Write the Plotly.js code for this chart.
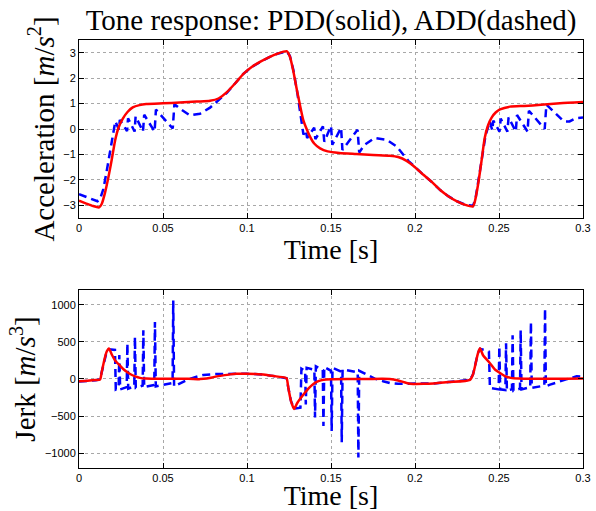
<!DOCTYPE html>
<html>
<head>
<meta charset="utf-8">
<script src="https://cdn.plot.ly/plotly-3.0.1.min.js"></script>
<style>html,body{margin:0;padding:0;background:#fff;}#plot{width:596px;height:511px;}</style>
</head>
<body>
<div id="plot"></div>
<script>
// ---- Acceleration, PDD (solid red) ----
const pddAccT = [0,0.004,0.008,0.012,0.0135,0.0155,0.0175,0.0195,0.0215,0.0235,0.026,0.029,0.032,0.036,0.040,0.050,0.060,0.070,0.078,0.083,0.088,0.093,0.098,0.103,0.108,0.113,0.118,0.1236,0.1255,0.1275,0.1295,0.1315,0.1335,0.1355,0.1375,0.140,0.1435,0.148,0.155,0.165,0.175,0.185,0.190,0.195,0.200,0.205,0.210,0.215,0.220,0.225,0.230,0.2345,0.2355,0.2375,0.2395,0.2415,0.2435,0.2456,0.248,0.2506,0.2565,0.265,0.275,0.2863,0.300];
const pddAccV = [-2.82,-2.92,-3.02,-3.08,-2.95,-2.5,-1.9,-1.2,-0.45,0.05,0.4,0.68,0.85,0.94,0.98,1.01,1.04,1.08,1.11,1.2,1.45,1.8,2.18,2.45,2.65,2.82,2.96,3.06,2.85,2.3,1.6,0.95,0.35,0.0,-0.3,-0.57,-0.76,-0.88,-0.94,-0.98,-1.02,-1.05,-1.1,-1.25,-1.5,-1.8,-2.08,-2.4,-2.65,-2.84,-2.98,-3.04,-2.88,-2.2,-1.3,-0.35,0.15,0.45,0.65,0.77,0.88,0.91,0.95,1.01,1.06];

// ---- Acceleration, ADD (dashed blue) ----
const addAccT = [0,0.004,0.008,0.011,0.0125,0.0145,0.0165,0.0185,0.0205,0.0216,0.0238,0.0243,0.0286,0.0292,0.0331,0.0337,0.0381,0.0388,0.0450,0.0458,0.0558,0.0568,0.060,0.066,0.072,0.078,0.085,0.088,0.093,0.098,0.103,0.108,0.113,0.118,0.1236,0.1255,0.1275,0.1300,0.1320,0.1336,0.1350,0.1358,0.1400,0.1407,0.1452,0.1460,0.1500,0.1508,0.1560,0.1568,0.1658,0.1668,0.1700,0.1760,0.1830,0.1890,0.1960,0.200,0.205,0.210,0.215,0.220,0.225,0.230,0.2345,0.2360,0.2380,0.2400,0.2420,0.2436,0.2445,0.2460,0.2466,0.2503,0.2510,0.2550,0.2557,0.2600,0.2607,0.2670,0.2678,0.2772,0.2782,0.2820,0.2886,0.2920,0.2960,0.3000];
const addAccV = [-2.56,-2.66,-2.76,-2.84,-2.76,-2.36,-1.65,-0.9,-0.2,0.3,-0.02,0.36,-0.08,0.42,-0.1,0.5,-0.1,0.56,-0.1,0.76,0.02,0.98,0.8,0.54,0.6,0.84,1.25,1.42,1.8,2.18,2.45,2.65,2.82,2.96,3.05,2.88,2.35,1.4,0.6,-0.22,-0.05,-0.35,0.05,-0.4,0.1,-0.5,0.12,-0.62,0.05,-0.82,-0.03,-0.92,-0.62,-0.35,-0.42,-0.68,-1.25,-1.5,-1.8,-2.08,-2.4,-2.65,-2.84,-2.98,-3.02,-2.75,-1.9,-0.95,-0.25,0.1,0.3,-0.05,0.33,-0.1,0.41,-0.1,0.46,-0.1,0.55,-0.1,0.72,0.0,0.96,0.72,0.3,0.3,0.43,0.45];

// ---- Jerk, PDD (solid red) ----
const pddJerkT = [0,0.005,0.010,0.0125,0.0135,0.0150,0.0165,0.0178,0.0195,0.0215,0.0244,0.027,0.0304,0.0335,0.0363,0.040,0.045,0.055,0.065,0.072,0.076,0.080,0.085,0.090,0.0938,0.100,0.105,0.1096,0.115,0.1226,0.1236,0.1246,0.1262,0.128,0.1300,0.1336,0.1365,0.1395,0.1425,0.1455,0.150,0.160,0.170,0.180,0.185,0.190,0.195,0.199,0.205,0.211,0.220,0.2327,0.2345,0.236,0.2375,0.2387,0.2405,0.2446,0.2475,0.2506,0.2535,0.257,0.262,0.270,0.280,0.290,0.300];
const pddJerkV = [-32,-25,-15,-8,90,250,370,412,330,250,180,120,67,35,15,5,2,2,3,-2,5,25,45,62,70,70,66,60,42,18,10,-120,-300,-405,-320,-210,-130,-67,-30,-10,-3,0,0,2,0,-20,-53,-67,-66,-60,-42,-12,60,200,350,413,320,213,130,80,40,15,5,2,2,3,5];

// ---- Jerk, ADD (dashed blue) ----
const addJerkT = [0,0.005,0.010,0.0125,0.0135,0.015,0.0165,0.018,0.0205,0.0214,0.0219,0.0236,0.0240,0.0245,0.0284,0.0288,0.0293,0.0329,0.0333,0.0338,0.0379,0.0383,0.0388,0.0448,0.0452,0.0457,0.0557,0.0561,0.0566,0.060,0.065,0.070,0.074,0.080,0.085,0.090,0.0938,0.100,0.105,0.1096,0.115,0.1226,0.1236,0.1246,0.1262,0.128,0.1305,0.1318,0.1324,0.1346,0.1350,0.1355,0.1401,0.1405,0.1410,0.1451,0.1455,0.1460,0.1500,0.1504,0.1509,0.1560,0.1564,0.1569,0.1659,0.1663,0.1668,0.171,0.176,0.181,0.185,0.190,0.198,0.205,0.211,0.220,0.2327,0.2345,0.236,0.2375,0.2387,0.2415,0.2440,0.2446,0.2498,0.2502,0.2507,0.2538,0.2542,0.2547,0.2577,0.2581,0.2586,0.2625,0.2629,0.2634,0.2686,0.2690,0.2695,0.2770,0.2774,0.2779,0.2804,0.2850,0.2900,0.2962,0.3000];
const addJerkV = [-35,-28,-18,-5,100,260,370,400,395,391,-140,-120,324,-140,-110,480,-130,-100,568,-120,-90,657,-110,-80,768,-100,-55,1057,-100,-60,-5,30,55,65,70,72,70,70,66,60,42,18,10,-120,-300,-400,-392,-388,140,110,-343,150,125,-520,170,120,-632,160,110,-700,150,100,-853,130,90,-1060,110,60,5,-30,-55,-65,-67,-66,-60,-42,-12,60,200,350,405,392,370,-120,-140,440,-140,-150,480,-155,-140,590,-160,-130,657,-140,-110,768,-120,-90,950,-98,-76,-40,-5,35,30];

const titleText = 'Tone response: PDD(solid), ADD(dashed)';
const xTicks = [0,0.05,0.1,0.15,0.2,0.25,0.3];
const accTicks = [-3,-2,-1,0,1,2,3];
const jerkTicks = [-1000,-500,0,500,1000];

const serif = 'Liberation Serif, Times New Roman, serif';
const sans = 'Liberation Sans, Arial, sans-serif';
const blueLine = {color:'#0000ff', width:2.5, dash:'8px,5px'};
const redLine = {color:'#ff0000', width:2.5};

const traces = [
  {x:addAccT, y:addAccV, mode:'lines', line:blueLine, xaxis:'x', yaxis:'y', hoverinfo:'skip'},
  {x:pddAccT, y:pddAccV, mode:'lines', line:Object.assign({shape:'spline', smoothing:0.6}, redLine), xaxis:'x', yaxis:'y', hoverinfo:'skip'},
  {x:addJerkT, y:addJerkV, mode:'lines', line:blueLine, xaxis:'x2', yaxis:'y2', hoverinfo:'skip'},
  {x:pddJerkT, y:pddJerkV, mode:'lines', line:Object.assign({shape:'spline', smoothing:0.6}, redLine), xaxis:'x2', yaxis:'y2', hoverinfo:'skip'}
];

function axisBase(){
  return {
    showline:true, linecolor:'#000', linewidth:1, mirror:'ticks',
    ticks:'inside', ticklen:5, tickcolor:'#000', tickwidth:1,
    showgrid:true, gridcolor:'#a8a8a8', griddash:'dot', gridwidth:1,
    zeroline:false, tickfont:{family:sans, size:11, color:'#000'}
  };
}

const layout = {
  width:596, height:511,
  margin:{l:79, r:13, t:40, b:43},
  paper_bgcolor:'#fff', plot_bgcolor:'#fff',
  showlegend:false,
  title:{text:titleText, font:{family:serif, size:29, color:'#000'}, x:0.5555, xanchor:'center', y:0.962, yanchor:'middle'},
  xaxis:Object.assign(axisBase(), {range:[0,0.3], tickvals:xTicks, anchor:'y', domain:[0,1],
    title:{text:'Time [s]', font:{family:serif, size:28, color:'#000'}, standoff:2}}),
  yaxis:Object.assign(axisBase(), {range:[-3.5,3.5], tickvals:accTicks, anchor:'x', domain:[0.584,1],
    title:{text:'Acceleration [<i>m</i>/<i>s</i><sup>2</sup>]', font:{family:serif, size:29, color:'#000'}, standoff:0}}),
  xaxis2:Object.assign(axisBase(), {range:[0,0.3], tickvals:xTicks, anchor:'y2', domain:[0,1],
    title:{text:'Time [s]', font:{family:serif, size:28, color:'#000'}, standoff:1}}),
  yaxis2:Object.assign(axisBase(), {range:[-1200,1200], tickvals:jerkTicks, anchor:'x2', domain:[0,0.416],
    title:{text:'Jerk [<i>m</i>/<i>s</i><sup>3</sup>]', font:{family:serif, size:29, color:'#000'}, standoff:0}})
};

Plotly.newPlot('plot', traces, layout, {staticPlot:true, displayModeBar:false});
</script>
</body>
</html>
